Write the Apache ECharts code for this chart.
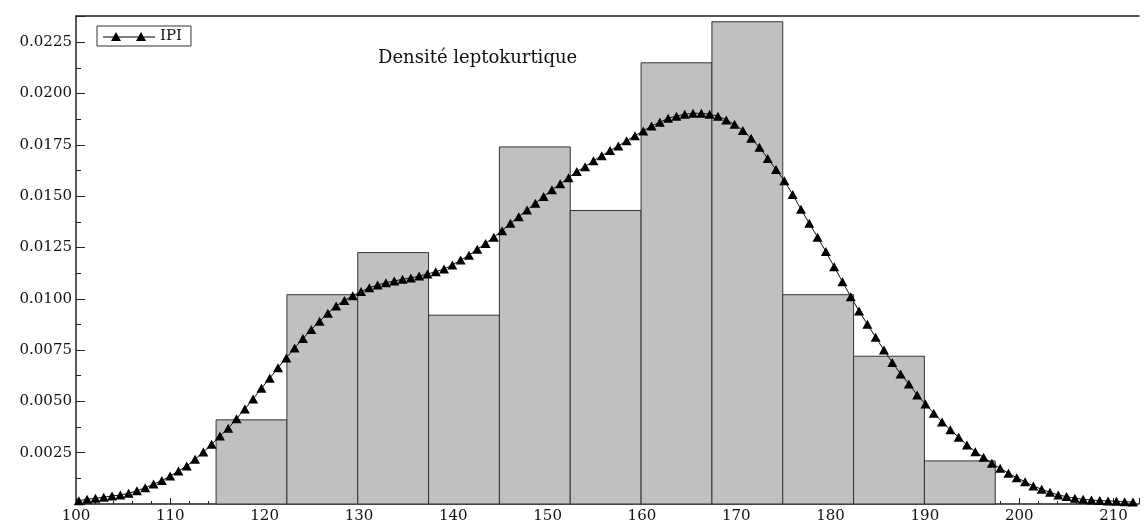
<!DOCTYPE html>
<html>
<head>
<meta charset="utf-8">
<script src="https://cdn.jsdelivr.net/npm/echarts@6/dist/echarts.min.js"></script>
<style>
  html, body { margin: 0; padding: 0; background: #fff; }
  #chart { width: 1147px; height: 525px; }
</style>
</head>
<body>
<div id="chart"></div>
<script>
// histogramme : bornes des classes et densités
const binStarts = [114.85, 122.36, 129.87, 137.38, 144.89, 152.40, 159.91, 167.42, 174.93, 182.44, 189.95];
const binEnds   = [122.36, 129.87, 137.38, 144.89, 152.40, 159.91, 167.42, 174.93, 182.44, 189.95, 197.46];
const binDensity = [0.0041, 0.0102, 0.01225, 0.0092, 0.0174, 0.0143, 0.0215, 0.0235, 0.0102, 0.0072, 0.0021];

// densité estimée (IPI)
const kdeX = [
  100.30, 101.18, 102.06, 102.94, 103.82, 104.70, 105.58, 106.46, 107.34, 108.22,
  109.10, 109.98, 110.86, 111.74, 112.62, 113.50, 114.38, 115.26, 116.14, 117.02,
  117.90, 118.78, 119.66, 120.54, 121.42, 122.30, 123.18, 124.06, 124.94, 125.82,
  126.70, 127.58, 128.46, 129.34, 130.22, 131.10, 131.98, 132.86, 133.74, 134.62,
  135.50, 136.38, 137.26, 138.14, 139.02, 139.90, 140.78, 141.66, 142.54, 143.42,
  144.30, 145.18, 146.06, 146.94, 147.82, 148.70, 149.58, 150.46, 151.34, 152.22,
  153.10, 153.98, 154.86, 155.74, 156.62, 157.50, 158.38, 159.26, 160.14, 161.02,
  161.90, 162.78, 163.66, 164.54, 165.42, 166.30, 167.18, 168.06, 168.94, 169.82,
  170.70, 171.58, 172.46, 173.34, 174.22, 175.10, 175.98, 176.86, 177.74, 178.62,
  179.50, 180.38, 181.26, 182.14, 183.02, 183.90, 184.78, 185.66, 186.54, 187.42,
  188.30, 189.18, 190.06, 190.94, 191.82, 192.70, 193.58, 194.46, 195.34, 196.22,
  197.10, 197.98, 198.86, 199.74, 200.62, 201.50, 202.38, 203.26, 204.14, 205.02,
  205.90, 206.78, 207.66, 208.54, 209.42, 210.30, 211.18, 212.06
];
const kdeY = [
  0.00016, 0.00023, 0.00028, 0.00033, 0.00039, 0.00044, 0.00052, 0.00065, 0.00079, 0.00097,
  0.00114, 0.00136, 0.00161, 0.00185, 0.00218, 0.00253, 0.00291, 0.00331, 0.00369, 0.00416,
  0.00463, 0.00512, 0.00564, 0.00613, 0.00664, 0.00712, 0.00760, 0.00806, 0.00850, 0.00890,
  0.00930, 0.00965, 0.00992, 0.01015, 0.01035, 0.01054, 0.01067, 0.01078, 0.01087, 0.01095,
  0.01101, 0.01111, 0.01121, 0.01132, 0.01145, 0.01165, 0.01189, 0.01212, 0.01241, 0.01270,
  0.01300, 0.01332, 0.01368, 0.01400, 0.01433, 0.01465, 0.01498, 0.01531, 0.01560, 0.01590,
  0.01620, 0.01644, 0.01673, 0.01697, 0.01722, 0.01745, 0.01770, 0.01795, 0.01818, 0.01842,
  0.01860, 0.01880, 0.01890, 0.01899, 0.01904, 0.01904, 0.01899, 0.01890, 0.01871, 0.01850,
  0.01820, 0.01782, 0.01738, 0.01683, 0.01630, 0.01575, 0.01508, 0.01436, 0.01368, 0.01300,
  0.01230, 0.01156, 0.01083, 0.01010, 0.00940, 0.00876, 0.00812, 0.00750, 0.00690, 0.00634,
  0.00585, 0.00531, 0.00487, 0.00442, 0.00400, 0.00362, 0.00325, 0.00288, 0.00255, 0.00228,
  0.00198, 0.00174, 0.00150, 0.00128, 0.00109, 0.00088, 0.00072, 0.00057, 0.00044, 0.00036,
  0.00028, 0.00023, 0.00019, 0.00017, 0.00015, 0.00013, 0.00011, 0.00010
];

const font = '"DejaVu Serif", "Liberation Serif", serif';

const binData = binStarts.map((s, i) => [s, binEnds[i], binDensity[i]]);
const kdeData = kdeX.map((x, i) => [x, kdeY[i]]);

// icône de légende : trait + deux triangles
const legendIcon = 'path://M0,4.6 L52,4.6 L52,5.4 L0,5.4 Z M8,9 L13,0 L18,9 Z M33,9 L38,0 L43,9 Z';

const chart = echarts.init(document.getElementById('chart'));
chart.setOption({
  animation: false,
  backgroundColor: '#fff',
  title: {
    text: 'Densité leptokurtique',
    left: 373,
    top: 44,
    textStyle: { fontFamily: font, fontSize: 18, fontWeight: 'normal', color: '#111' }
  },
  legend: {
    data: [{ name: 'IPI', icon: legendIcon }],
    left: 97,
    top: 26,
    padding: [3, 9, 2, 6],
    itemWidth: 52,
    itemHeight: 9,
    borderColor: '#333',
    borderWidth: 1,
    borderRadius: 0,
    textStyle: { fontFamily: font, fontSize: 15, color: '#111' }
  },
  grid: { left: 76, right: 8, top: 16, bottom: 21, containLabel: false },
  xAxis: [{
    type: 'value',
    min: 100,
    max: 212.7,
    interval: 10,
    axisLine: { onZero: false, lineStyle: { color: '#222', width: 1.5 } },
    axisTick: { inside: true, length: 6, lineStyle: { color: '#222' } },
    minorTick: { show: true, splitNumber: 5, length: 3, lineStyle: { color: '#222' } },
    splitLine: { show: false },
    axisLabel: { showMaxLabel: false, margin: 5, fontFamily: font, fontSize: 15, color: '#111' }
  }, {
    type: 'value',
    position: 'top',
    min: 100,
    max: 212.7,
    axisLine: { show: true, onZero: false, lineStyle: { color: '#222', width: 1.5 } },
    axisTick: { show: false },
    axisLabel: { show: false },
    splitLine: { show: false }
  }],
  yAxis: {
    type: 'value',
    min: 0,
    max: 0.02378,
    interval: 0.0025,
    axisLine: { show: true, onZero: false, lineStyle: { color: '#222', width: 1.5 } },
    axisTick: { inside: true, length: 9, lineStyle: { color: '#222' } },
    minorTick: { show: true, splitNumber: 2, length: 5, lineStyle: { color: '#222' } },
    splitLine: { show: false },
    axisLabel: {
      showMinLabel: false,
      showMaxLabel: false,
      margin: 4,
      fontFamily: font,
      fontSize: 15,
      color: '#111',
      formatter: v => v.toFixed(4)
    }
  },
  series: [{
    type: 'custom',
    name: 'bins',
    xAxisIndex: 0,
    encode: { x: [0, 1], y: 2 },
    data: binData,
    z: 1,
    renderItem: (params, api) => {
      const p0 = api.coord([api.value(0), api.value(2)]);
      const p1 = api.coord([api.value(1), 0]);
      return {
        type: 'rect',
        shape: { x: p0[0], y: p0[1], width: p1[0] - p0[0], height: p1[1] - p0[1] },
        style: { fill: '#c0c0c0', stroke: '#333', lineWidth: 1 }
      };
    }
  }, {
    type: 'line',
    name: 'IPI',
    xAxisIndex: 0,
    data: kdeData,
    z: 3,
    symbol: 'triangle',
    symbolSize: [10, 9],
    showAllSymbol: true,
    lineStyle: { color: '#111', width: 1 },
    itemStyle: { color: '#000' }
  }]
});
</script>
</body>
</html>
